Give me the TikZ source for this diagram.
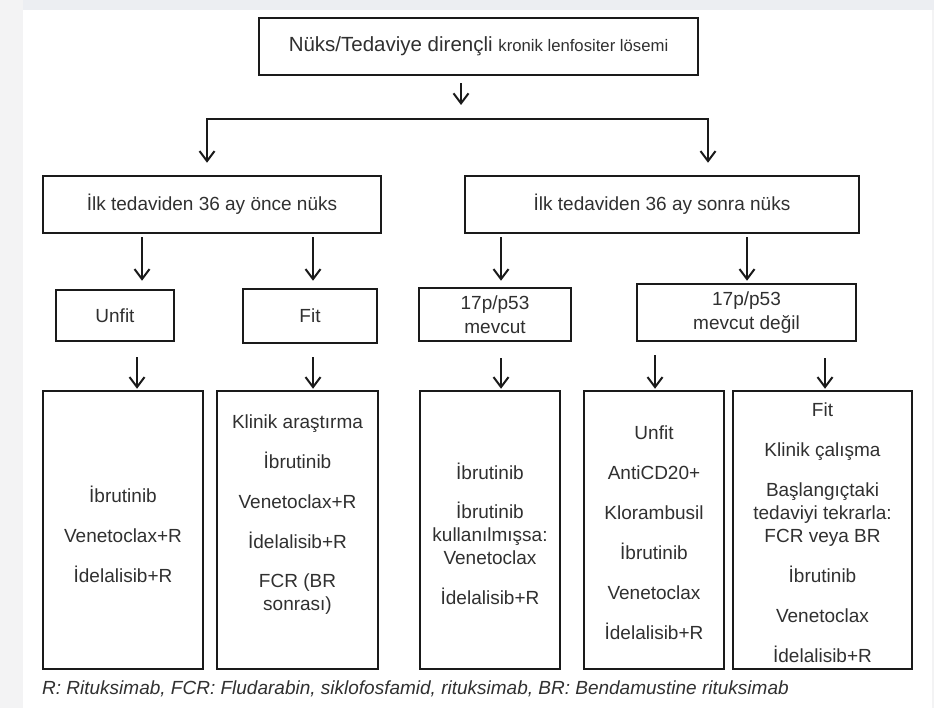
\documentclass[tikz,border=0pt]{standalone}
\usepackage{fontspec}
\setmainfont{Liberation Sans}
\usetikzlibrary{arrows.meta,calc}
\definecolor{ink}{HTML}{1A1A1A}
\definecolor{txt}{HTML}{303030}
\definecolor{margin}{HTML}{F3F3F4}
\definecolor{topband}{HTML}{ECEEF2}
\begin{document}
\begin{tikzpicture}[x=1pt,y=-1pt,
  >={Straight Barb[length=10pt,width=15pt]},
  box/.style={draw=ink, line width=2.5pt, fill=white, inner sep=0pt,
    text=txt, align=center, font=\fontsize{19}{24}\selectfont},
  lst/.style={text=txt, inner sep=0pt, align=center,
    font=\fontsize{19}{23}\selectfont},
  conn/.style={draw=ink, line width=2pt, ->}]
\useasboundingbox (0,0) rectangle (934,708);
% page background with grey margins
\fill[margin] (0,0) rectangle (934,708);
\fill[topband] (23,0) rectangle (934,10);
\fill[white] (23,10) rectangle (932,708);

% level 0
\node[box, minimum width=439pt, minimum height=57pt] (top) at (478.5,46.5)
  {\fontsize{20.5}{24}\selectfont Nüks/Tedaviye dirençli {\fontsize{16.7}{20}\selectfont kronik lenfositer lösemi}};

% level 1
\node[box, minimum width=338pt, minimum height=57pt] (early) at (212,204.5)
  {İlk tedaviden 36 ay önce nüks};
\node[box, minimum width=394pt, minimum height=57pt] (late) at (662,204.5)
  {İlk tedaviden 36 ay sonra nüks};

% level 2
\node[box, minimum width=118pt, minimum height=51pt] (unfit) at (115,315.5) {Unfit};
\node[box, minimum width=134pt, minimum height=54pt] (fit) at (310,316) {Fit};
\node[box, minimum width=152pt, minimum height=53pt] (mev) at (495,314.5) {17p/p53\\mevcut};
\node[box, minimum width=219pt, minimum height=57pt] (mevd) at (746.5,312.5) {17p/p53\\mevcut değil};

% level 3 boxes
\node[box, minimum width=160pt, minimum height=278pt] (b1) at (123,530) {};
\node[box, minimum width=161pt, minimum height=278pt] (b2) at (297.5,530) {};
\node[box, minimum width=140pt, minimum height=278pt] (b3) at (490,530) {};
\node[box, minimum width=140pt, minimum height=278pt] (b4) at (654,530) {};
\node[box, minimum width=179pt, minimum height=278pt] (b5) at (822.5,530) {};

% level 3 contents
\node[lst] (t1) at (123,534) {İbrutinib\\[17pt]Venetoclax+R\\[17pt]İdelalisib+R};
\node[lst] (t2) at (297.5,514.5) {Klinik araştırma\\[17pt]İbrutinib\\[17pt]Venetoclax+R\\[17pt]İdelalisib+R\\[16pt]FCR (BR\\sonrası)};
\node[lst] (t3) at (490,533.5) {İbrutinib\\[16pt]İbrutinib\\kullanılmışsa:\\Venetoclax\\[17pt]İdelalisib+R};
\node[lst] (t4) at (654,533) {Unfit\\[17pt]AntiCD20+\\[17pt]Klorambusil\\[17pt]İbrutinib\\[17pt]Venetoclax\\[17pt]İdelalisib+R};
\node[lst] (t5) at (822.5,533) {Fit\\[17pt]Klinik çalışma\\[17pt]Başlangıçtaki\\tedaviyi tekrarla:\\FCR veya BR\\[17pt]İbrutinib\\[17pt]Venetoclax\\[17pt]İdelalisib+R};

% footnote
\node[anchor=west, inner sep=0pt, text=txt, font=\fontsize{19}{22}\selectfont\itshape] (note) at (42,689)
  {R: Rituksimab, FCR: Fludarabin, siklofosfamid, rituksimab, BR: Bendamustine rituksimab};

% connectors
\coordinate (stem) at (461,105);
\coordinate (bar) at (461,119);
\draw[conn] ($(top.south)+(-17.5,7)$) -- (stem);
\draw[conn, <->] ($(early.north)+(-5,-12)$) |- (bar) -| ($(late.north)+(46,-12)$);

\draw[conn] ($(early.south)+(-70,3)$) -- ($(unfit.north)+(27,-8)$);
\draw[conn] ($(early.south)+(101,3)$) -- ($(fit.north)+(3,-7)$);
\draw[conn] ($(late.south)+(-161,3)$) -- ($(mev.north)+(6,-6)$);
\draw[conn] ($(late.south)+(85,3)$) -- ($(mevd.north)+(0.5,-2)$);

\draw[conn] ($(unfit.south)+(22,15)$) -- ($(b1.north)+(14,-1)$);
\draw[conn] ($(fit.south)+(3,13)$) -- ($(b2.north)+(15.5,-1)$);
\draw[conn] ($(mev.south)+(6,16)$) -- ($(b3.north)+(11,-1)$);
\draw[conn] ($(mevd.south)+(-91.5,13)$) -- ($(b4.north)+(1,-1)$);
\draw[conn] ($(mevd.south)+(78.5,16)$) -- ($(b5.north)+(2.5,-1)$);
\end{tikzpicture}
\end{document}
